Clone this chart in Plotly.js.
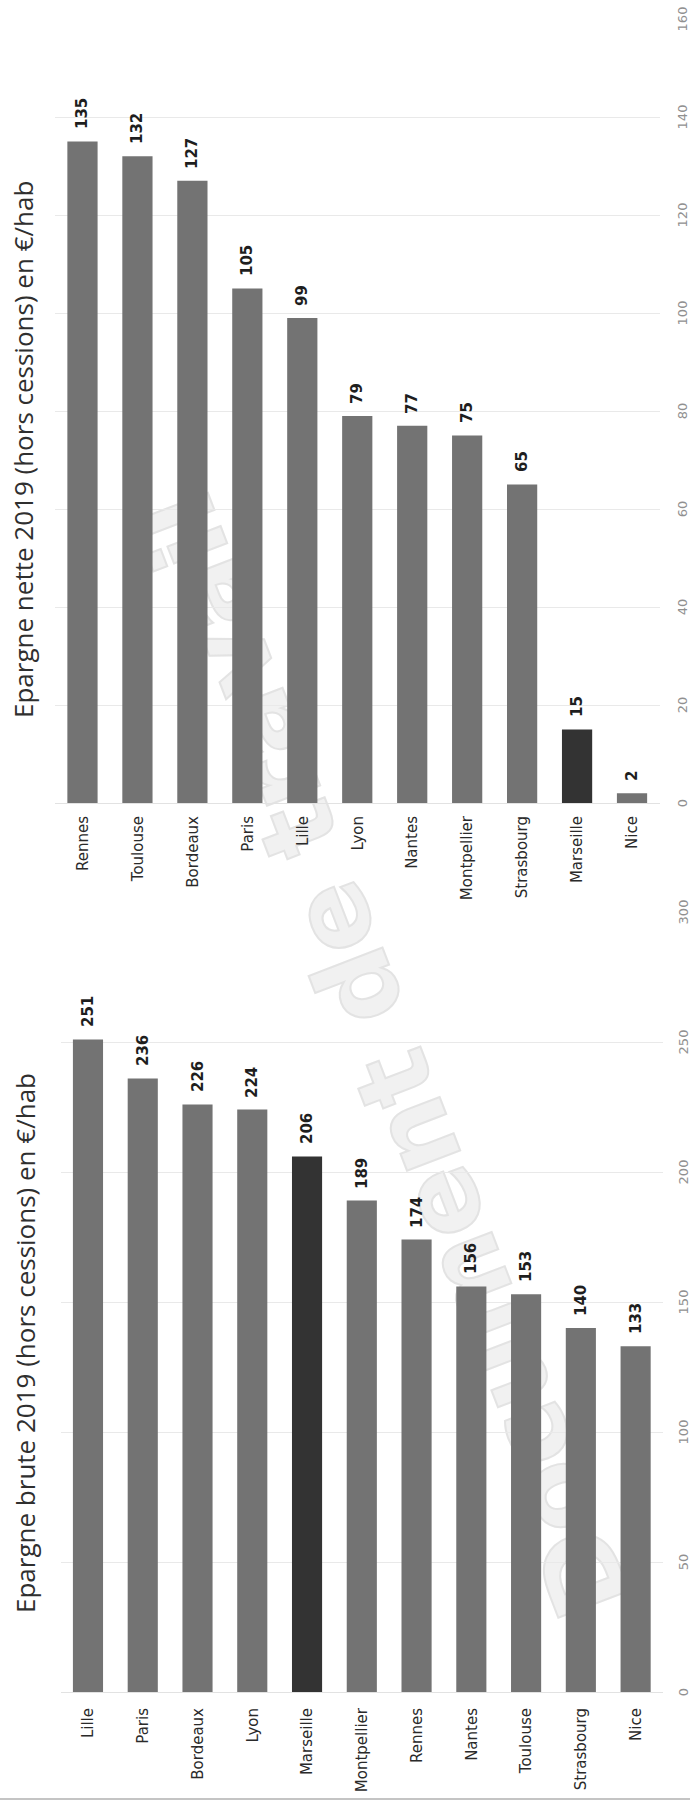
<!DOCTYPE html>
<html>
<head>
<meta charset="utf-8">
<script src="https://cdn.plot.ly/plotly-3.0.1.min.js"></script>
<style>
  html, body { margin: 0; padding: 0; background: #fff; overflow: hidden; width: 690px; height: 1800px; }
  /* landscape stage turned a quarter-turn counter-clockwise onto the portrait page */
  #stage {
    position: absolute; left: 0; top: 0; width: 1800px; height: 690px;
    transform-origin: 0 0; transform: translateY(1800px) rotate(-90deg);
  }
  #wm {
    position: absolute; left: 745px; top: 385px;
    transform: translate(-50%, -50%) rotate(-21deg);
    font-family: "DejaVu Sans", sans-serif; font-weight: bold; font-size: 104px;
    line-height: 1; white-space: nowrap; color: #f1f1f1;
    -webkit-text-stroke: 2px #e3e3e3;
  }
  #chart { position: absolute; left: 0; top: 0; width: 1800px; height: 690px; }
  #edge { position: absolute; left: 0; top: 1798px; width: 690px; height: 2px; background: #c4c4c4; }
</style>
</head>
<body>
<div id="stage">
  <div id="wm">Document de travail</div>
  <div id="chart"></div>
</div>
<div id="edge"></div>
<script>
// Epargne brute 2019 (hors cessions), €/hab
const citiesBrute = ['Lille', 'Paris', 'Bordeaux', 'Lyon', 'Marseille', 'Montpellier', 'Rennes', 'Nantes', 'Toulouse', 'Strasbourg', 'Nice'];
const brute = [251, 236, 226, 224, 206, 189, 174, 156, 153, 140, 133];

// Epargne nette 2019 (hors cessions), €/hab
const citiesNette = ['Rennes', 'Toulouse', 'Bordeaux', 'Paris', 'Lille', 'Lyon', 'Nantes', 'Montpellier', 'Strasbourg', 'Marseille', 'Nice'];
const nette = [135, 132, 127, 105, 99, 79, 77, 75, 65, 15, 2];

const ticksBrute = [0, 50, 100, 150, 200, 250, 300];
const ticksNette = [0, 20, 40, 60, 80, 100, 120, 140, 160];

const titleBrute = 'Epargne brute 2019 (hors cessions) en €/hab';
const titleNette = 'Epargne nette 2019 (hors cessions) en €/hab';

const highlight = 'Marseille';
const GREY = '#737373', DARK = '#333333';

const W = 1800, H = 690;
const colorsFor = cats => cats.map(c => c === highlight ? DARK : GREY);

const traces = [
  { type: 'bar', orientation: 'h', x: brute, y: citiesBrute, xaxis: 'x', yaxis: 'y',
    marker: { color: colorsFor(citiesBrute) }, hoverinfo: 'none' },
  { type: 'bar', orientation: 'h', x: nette, y: citiesNette, xaxis: 'x2', yaxis: 'y2',
    marker: { color: colorsFor(citiesNette) }, hoverinfo: 'none' }
];

const valueAxis = (dom, range, ticks, len) => ({
  domain: dom, range: range, tickvals: ticks, fixedrange: true,
  showgrid: true, gridcolor: '#e9e9e9', gridwidth: 1,
  zeroline: true, zerolinecolor: '#e2e2e2', zerolinewidth: 1, showline: false,
  ticks: 'outside', ticklen: len, tickcolor: 'rgba(0,0,0,0)',
  tickfont: { family: 'DejaVu Sans', size: 13, color: '#909090' }
});
const catAxis = (dom, len) => ({
  domain: dom, type: 'category', autorange: 'reversed', fixedrange: true,
  showgrid: false, zeroline: false, showline: false,
  ticks: 'outside', ticklen: len, tickcolor: 'rgba(0,0,0,0)',
  tickfont: { family: 'DejaVu Sans', size: 15, color: '#2a2a2a' }
});

const valueLabels = (cats, vals, xr, yr) => cats.map((c, i) => ({
  x: vals[i], y: c, xref: xr, yref: yr, text: '<b>' + vals[i] + '</b>',
  showarrow: false, xanchor: 'left', yanchor: 'middle', xshift: 10,
  font: { family: 'DejaVu Sans', size: 15, color: '#1e1e1e' }
}));

const titleNote = (text, x, y) => ({
  x: x / W, y: 1 - y / H, xref: 'paper', yref: 'paper', text: text,
  showarrow: false, xanchor: 'left', yanchor: 'middle',
  font: { family: 'Open Sans', size: 26, color: '#2f2f2f' }
});

const layout = {
  width: W, height: H, autosize: false,
  margin: { l: 0, r: 0, t: 0, b: 0 },
  paper_bgcolor: 'rgba(0,0,0,0)', plot_bgcolor: 'rgba(0,0,0,0)',
  showlegend: false, bargap: 0.45,
  xaxis:  Object.assign(valueAxis([108 / W, 888 / W], [0, 300], ticksBrute, 8), { anchor: 'y' }),
  yaxis:  Object.assign(catAxis([(H - 663) / H, (H - 60.6) / H], 12), { anchor: 'x' }),
  xaxis2: Object.assign(valueAxis([997 / W, 1781 / W], [0, 160], ticksNette, 11), { anchor: 'y2' }),
  yaxis2: Object.assign(catAxis([(H - 659.5) / H, (H - 55) / H], 9), { anchor: 'x2' }),
  annotations: [].concat(
    valueLabels(citiesBrute, brute, 'x', 'y'),
    valueLabels(citiesNette, nette, 'x2', 'y2'),
    [titleNote(titleBrute, 185, 25), titleNote(titleNette, 1080, 23)]
  )
};

Plotly.newPlot('chart', traces, layout, { displayModeBar: false, staticPlot: true });
</script>
</body>
</html>
